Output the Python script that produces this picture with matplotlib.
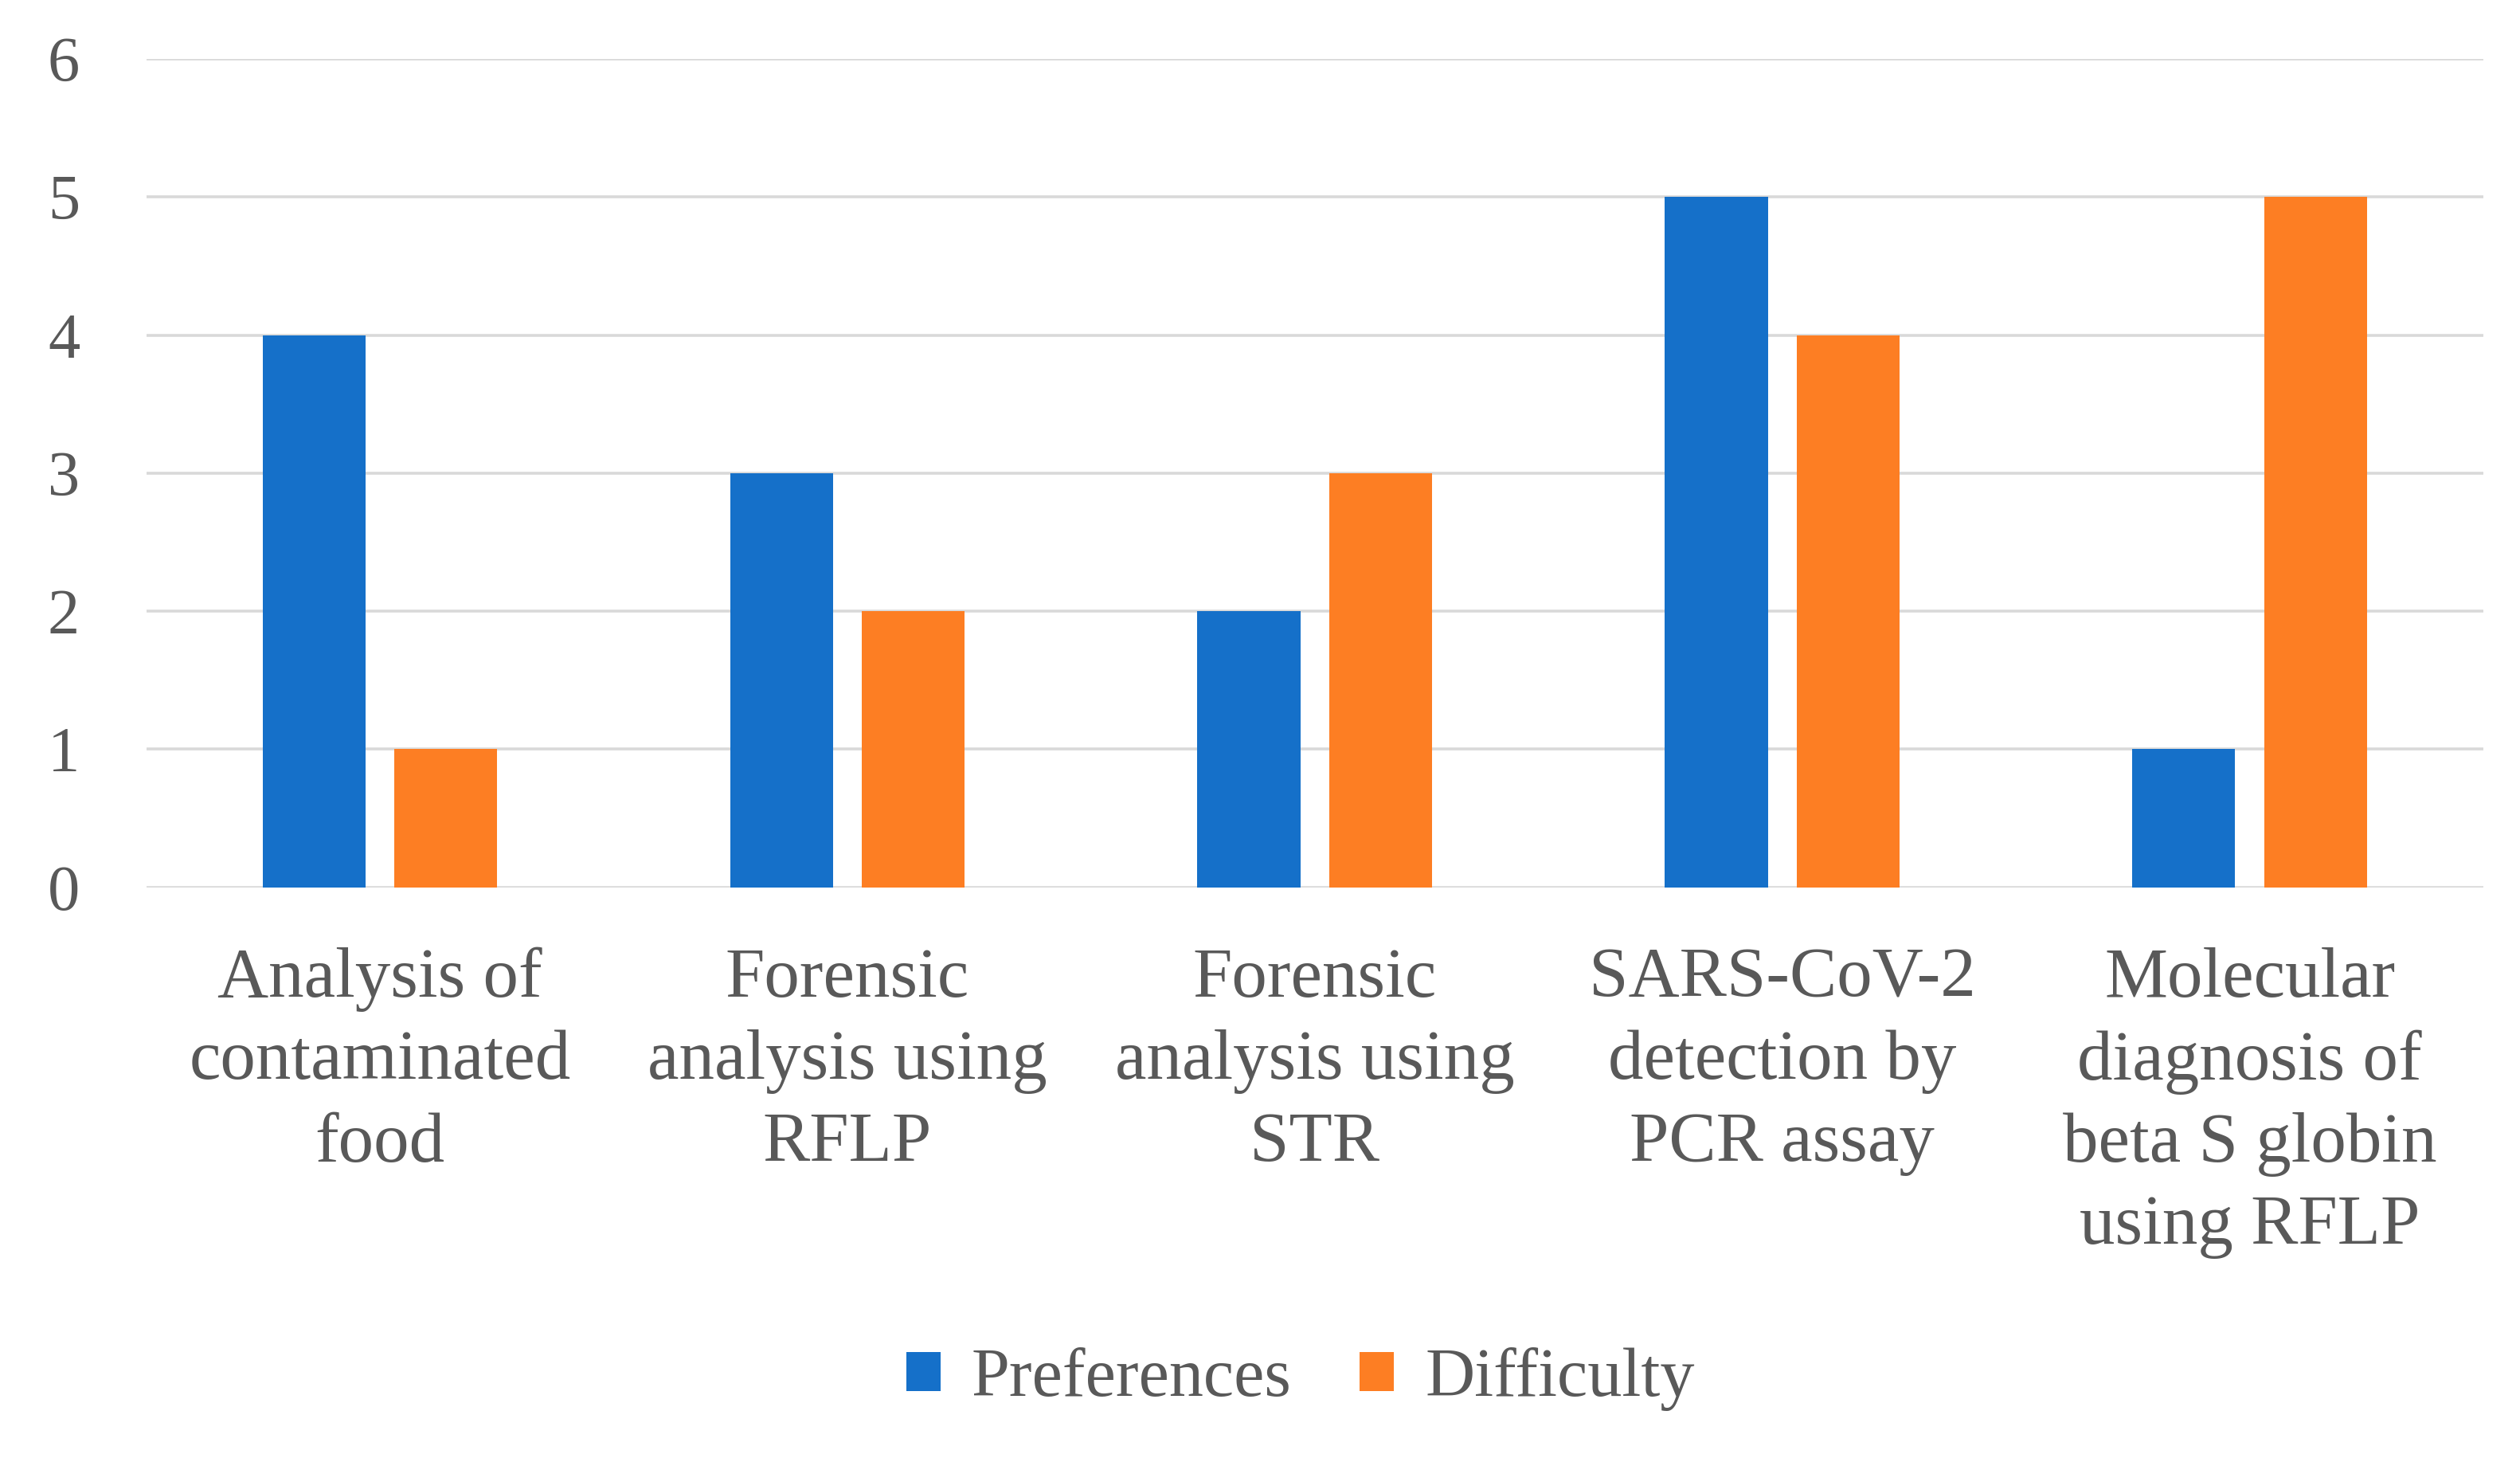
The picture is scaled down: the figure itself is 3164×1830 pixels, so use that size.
import matplotlib.pyplot as plt
import numpy as np

# data
categories = [
    "Analysis of\ncontaminated\nfood",
    "Forensic\nanalysis using\nRFLP",
    "Forensic\nanalysis using\nSTR",
    "SARS-CoV-2\ndetection by\nPCR assay",
    "Molecular\ndiagnosis of\nbeta S globin\nusing RFLP",
]
preferences = [4, 3, 2, 5, 1]
difficulty = [1, 2, 3, 4, 5]
yticks = [0, 1, 2, 3, 4, 5, 6]

text_color = '#595959'
plt.rcParams['font.family'] = ['Liberation Serif', 'DejaVu Serif']

fig = plt.figure(figsize=(15.82, 9.15), dpi=200)
ax = fig.add_axes([0.058, 0.3914, 0.9275, 0.5682])

x = np.arange(len(categories))
w = 0.22
off = 0.141
ax.bar(x - off, preferences, w, color='#1570c9', label='Preferences', zorder=3)
ax.bar(x + off, difficulty, w, color='#fd7e23', label='Difficulty', zorder=3)

ax.set_xlim(-0.5, len(categories) - 0.5)
ax.set_ylim(0, 6)
ax.set_yticks(yticks)
ax.yaxis.grid(True, color='#d9d9d9', linewidth=1.3, zorder=0)
ax.set_axisbelow(True)
for s in ax.spines.values():
    s.set_visible(False)

ax.set_xticks(x)
ax.set_xticklabels(categories, fontsize=32, color=text_color, linespacing=1.36)
ax.tick_params(axis='x', length=0, pad=27)
ax.tick_params(axis='y', length=0, pad=30, labelsize=29, labelcolor=text_color)

fig.legend(loc='center', bbox_to_anchor=(0.516, 0.054), ncol=2, frameon=False,
           fontsize=31, labelcolor=text_color, handlelength=0.5, handleheight=0.5,
           handletextpad=0.45, columnspacing=1.0)

fig.savefig('out.png', dpi=200, facecolor='white')
